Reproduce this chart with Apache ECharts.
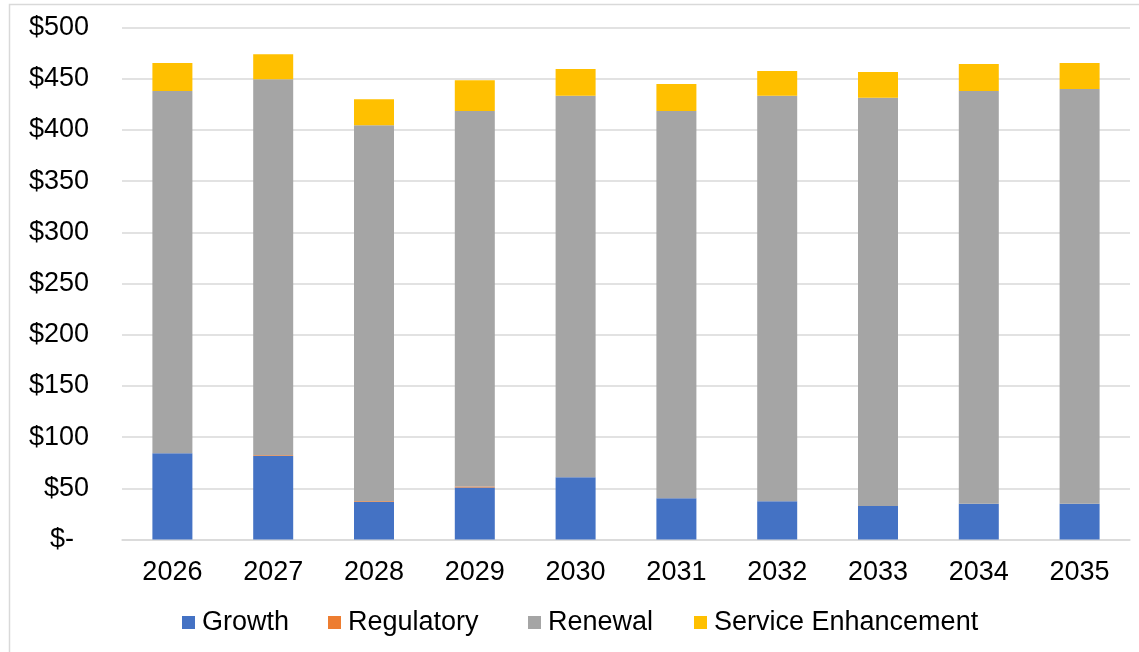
<!DOCTYPE html>
<html>
<head>
<meta charset="utf-8">
<title>Capital Program by Category, 2026–2035</title>
<script src="https://cdn.jsdelivr.net/npm/echarts@6/dist/echarts.min.js"></script>
<style>
  html, body { margin: 0; padding: 0; background: #ffffff; }
  #chart { width: 1139px; height: 652px; }
</style>
</head>
<body>
<div id="chart"></div>
<script>
// Spending by year and category ($)
const years = ['2026', '2027', '2028', '2029', '2030', '2031', '2032', '2033', '2034', '2035'];
const growth = [84.3, 81.6, 36.7, 50.8, 60.8, 40.3, 37.4, 32.8, 34.8, 34.8];
const regulatory = [0, 0.7, 0.7, 1.0, 0, 0, 0, 0, 0, 0];
const renewal = [353.7, 367.1, 367.1, 366.7, 372.6, 378.2, 396.0, 398.7, 403.2, 405.2];
const serviceEnhancement = [27.3, 24.4, 25.4, 29.9, 26.1, 26.3, 24.1, 25.0, 26.4, 25.3];
const seriesNames = ['Growth', 'Regulatory', 'Renewal', 'Service Enhancement'];
const colors = ['#4472C4', '#ED7D31', '#A5A5A5', '#FFC000'];

const FONT = '"Liberation Sans", Arial, sans-serif';
const values = [growth, regulatory, renewal, serviceEnhancement];

// Each legend entry sits at its own horizontal position
const legendLefts = [182, 328, 528, 694];

const chart = echarts.init(document.getElementById('chart'), null, { renderer: 'canvas' });

chart.setOption({
  animation: false,
  backgroundColor: '#ffffff',
  textStyle: { fontFamily: FONT },
  graphic: [{
    type: 'rect',
    left: 7, top: 2,
    shape: { width: 1200, height: 700 },
    style: { fill: 'none', stroke: '#d9d9d9', lineWidth: 1.5 },
    silent: true,
    z: -1
  }],
  grid: { left: 122, right: 9, top: 27.5, bottom: 112.5, containLabel: false },
  legend: seriesNames.map((name, i) => ({
    data: [name],
    left: legendLefts[i],
    top: 609,
    padding: 0,
    icon: 'rect',
    itemWidth: 13,
    itemHeight: 13,
    selectedMode: false,
    textStyle: { fontFamily: FONT, fontSize: 27, color: '#000000', padding: [0, 0, 0, 2] }
  })),
  xAxis: {
    type: 'category',
    data: years,
    axisLine: { show: true, lineStyle: { color: '#d9d9d9', width: 1.5 } },
    axisTick: { show: false },
    axisLabel: { fontFamily: FONT, fontSize: 27, color: '#000000', margin: 20, lineHeight: 27 }
  },
  yAxis: {
    type: 'value',
    min: 0, max: 500, interval: 50,
    axisLine: { show: false },
    axisTick: { show: false },
    splitLine: { lineStyle: { color: '#d9d9d9', width: 1.5 } },
    axisLabel: {
      fontFamily: FONT, fontSize: 27, color: '#000000', margin: 33,
      formatter: v => v === 0 ? '$-  ' : '$' + v
    }
  },
  series: seriesNames.map((name, i) => ({
    name: name,
    type: 'bar',
    stack: 'total',
    barWidth: 40,
    data: values[i],
    itemStyle: { color: colors[i] }
  }))
});
</script>
</body>
</html>
